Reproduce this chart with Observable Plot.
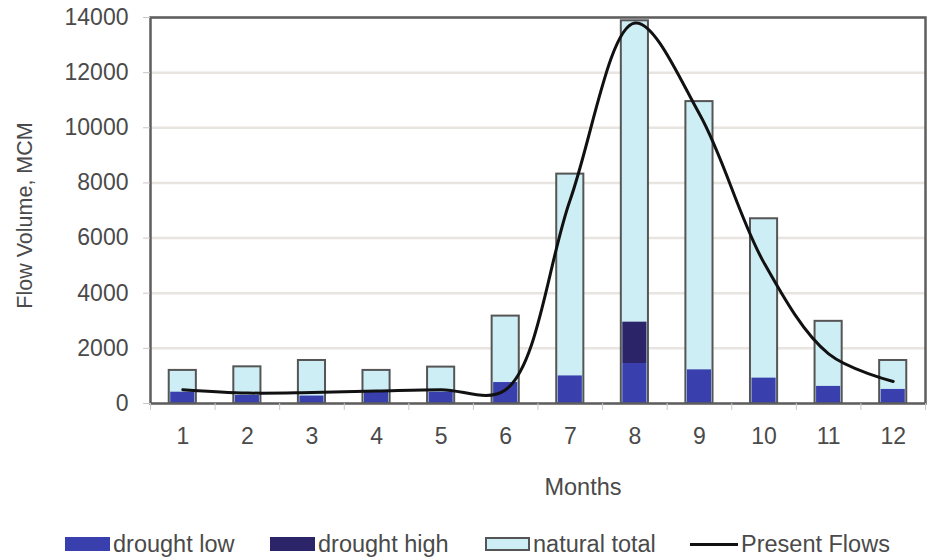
<!DOCTYPE html>
<html>
<head>
<meta charset="utf-8">
<script src="https://cdn.jsdelivr.net/npm/d3@7"></script>
<script src="https://cdn.jsdelivr.net/npm/@observablehq/plot@0.6"></script>
<style>
  body { margin: 0; background: #fff; font-family: "Liberation Sans", Arial, sans-serif; }
  #chart { position: relative; width: 928px; height: 560px; overflow: hidden; }
  .legend { position: absolute; left: 0; top: 530px; width: 928px; height: 28px; font-size: 23.5px; color: #4a4a4a; }
  .item { position: absolute; top: 0; height: 28px; display: flex; align-items: center; white-space: nowrap; }
  .sw { width: 45px; height: 14px; margin-right: 3px; box-sizing: border-box; }
  .ln { width: 48px; height: 3px; background: #111; margin-right: 3px; }
</style>
</head>
<body>
<div id="chart"></div>
<script>
// Monthly flow volumes (MCM)
const months = [1, 2, 3, 4, 5, 6, 7, 8, 9, 10, 11, 12];
const naturalTotal = [1200, 1330, 1560, 1200, 1320, 3170, 8320, 13880, 10950, 6700, 2980, 1560];
const droughtLow = [410, 290, 270, 400, 410, 760, 1000, 1450, 1220, 920, 620, 510];
const droughtHigh = [410, 290, 270, 400, 410, 760, 1000, 2950, 1220, 920, 620, 510];
const presentFlows = [500, 380, 400, 450, 500, 500, 7400, 13800, 10500, 5100, 1800, 800];
const yTicks = [0, 2000, 4000, 6000, 8000, 10000, 12000, 14000];
const monthEdges = [0.5, 1.5, 2.5, 3.5, 4.5, 5.5, 6.5, 7.5, 8.5, 9.5, 10.5, 11.5, 12.5];

const rows = months.map((m, i) => ({
  month: m,
  natural: naturalTotal[i],
  low: droughtLow[i],
  high: droughtHigh[i],
  flow: presentFlows[i]
}));

const half = 0.21; // half bar width, in months
const barX = {x1: d => d.month - half, x2: d => d.month + half};

const chart = Plot.plot({
  width: 928,
  height: 510,
  marginTop: 17,
  marginBottom: 107,
  marginLeft: 150,
  marginRight: 3,
  style: {fontFamily: "Liberation Sans, Arial, sans-serif", fontSize: "23px", color: "#4a4a4a", background: "#fff", overflow: "visible"},
  x: {domain: [0.5, 12.5]},
  y: {domain: [0, 14000]},
  marks: [
    Plot.ruleY(yTicks, {stroke: "#e8e4e0", strokeWidth: 2.5}),
    Plot.rectY(rows, {...barX, y1: 0, y2: "natural", fill: "#cdeef4", stroke: "#555", strokeWidth: 2}),
    Plot.rectY(rows, {...barX, y1: 0, y2: "low", fill: "#3a3fae", insetLeft: 1.5, insetRight: 1.5}),
    Plot.rectY(rows.filter(d => d.high > d.low), {...barX, y1: "low", y2: "high", fill: "#2b2468", insetLeft: 1.5, insetRight: 1.5}),
    Plot.line(rows, {x: "month", y: "flow", curve: "catmull-rom", stroke: "#111", strokeWidth: 3}),
    Plot.frame({stroke: "#5e5e5e", strokeWidth: 2.5}),
    Plot.axisY({ticks: yTicks, tickSize: 7, tickPadding: 15, stroke: "#c8c8c8", tickFormat: d => String(d), label: null}),
    Plot.text(["Flow Volume, MCM"], {frameAnchor: "left", textAnchor: "middle", dx: -125, dy: 5, rotate: -90, fill: "#4a4a4a", fontSize: 21.5}),
    Plot.axisX({ticks: monthEdges, tickSize: 7, tickFormat: () => "", stroke: "#c8c8c8", label: null}),
    Plot.axisX({ticks: months, tickSize: 0, tickPadding: 24, label: null}),
    Plot.text(["Months"], {frameAnchor: "bottom", dx: 45, dy: 84, lineAnchor: "middle", fill: "#4a4a4a", fontSize: 23.5})
  ]
});

const root = document.getElementById("chart");
root.appendChild(chart);

// Legend below the plot
const legendItems = [
  {left: 65, label: "drought low", kind: "sw", style: "background:#3a3fae"},
  {left: 270, label: "drought high", kind: "sw", style: "background:#2b2468"},
  {left: 485, label: "natural total", kind: "sw", style: "background:#cdeef4;border:2px solid #555"},
  {left: 690, label: "Present Flows", kind: "ln", style: ""}
];
const legend = document.createElement("div");
legend.className = "legend";
for (const it of legendItems) {
  const item = document.createElement("div");
  item.className = "item";
  item.style.left = it.left + "px";
  const key = document.createElement("span");
  key.className = it.kind;
  key.setAttribute("style", it.style);
  const txt = document.createElement("span");
  txt.textContent = it.label;
  item.appendChild(key);
  item.appendChild(txt);
  legend.appendChild(item);
}
root.appendChild(legend);
</script>
</body>
</html>
